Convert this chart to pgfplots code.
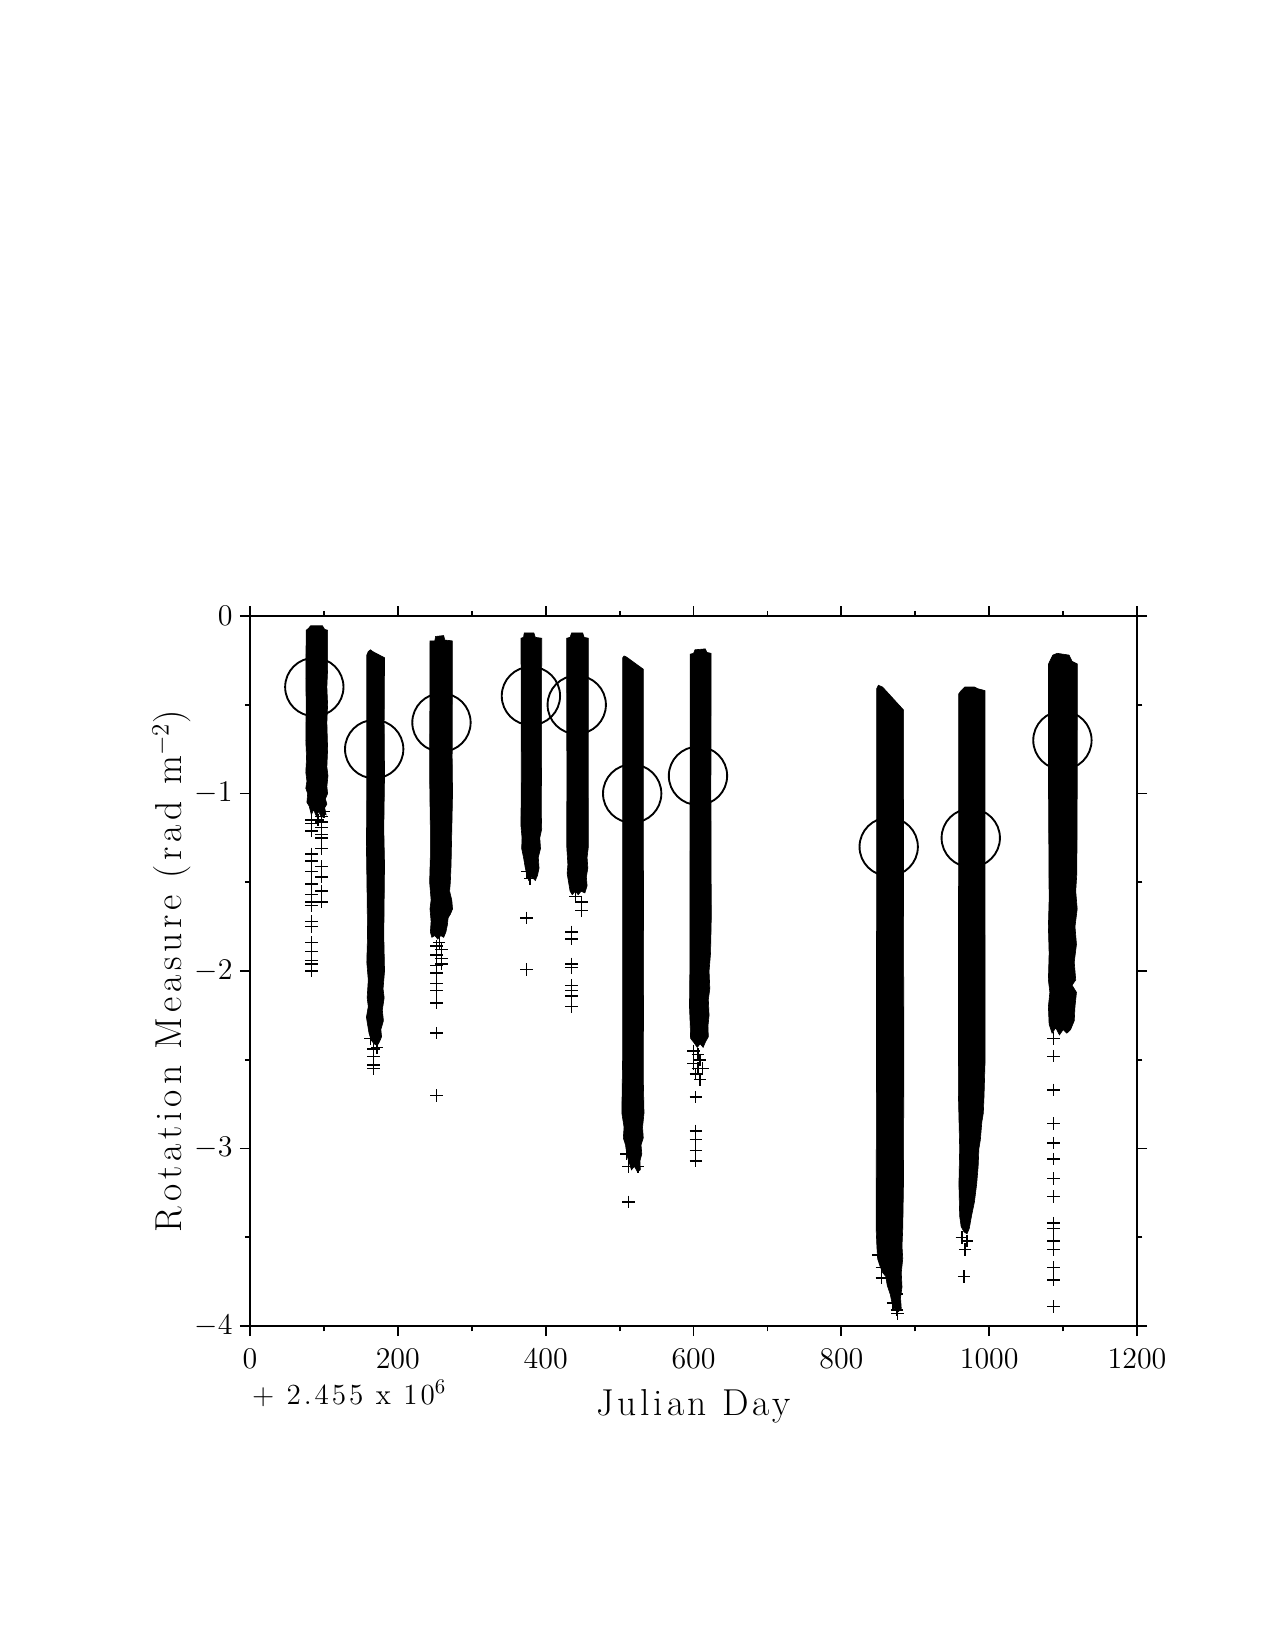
\documentclass[border=0pt]{standalone}
\usepackage{fontspec}
\newfontfamily\xlabelfont{Latin Modern Roman}[LetterSpace=10]
\newfontfamily\ylabelfont{Latin Modern Roman}[LetterSpace=13]
\usepackage{pgfplots}
\pgfplotsset{compat=1.18}
\begin{document}
\begin{tikzpicture}
\useasboundingbox (-120pt,-155.5pt) rectangle (492pt,636.5pt);
\begin{axis}[
  at={(0,0)}, anchor=south west,
  width=425.8pt, height=340.8pt, scale only axis,
  clip mode=individual,
  xmin=0, xmax=1200, ymin=-4, ymax=0,
  xtick={0,200,...,1200}, ytick={-4,-3,-2,-1,0},
  minor x tick num=1, minor y tick num=1,
  tick align=outside, tick pos=both,
  major tick length=4.8pt, minor tick length=2.5pt,
  axis line style={line width=0.9pt},
  every tick/.style={black, line width=0.9pt},
  /pgf/number format/1000 sep={},
  tick label style={font=\fontsize{14}{16}\selectfont},
  xticklabel style={anchor=north, yshift=-3pt},
  yticklabel style={anchor=east},
  xlabel={Julian Day},
  xlabel style={at={(axis description cs:0.5,0)}, anchor=base, yshift=-43pt, font=\xlabelfont\fontsize{18}{20}\selectfont},
  ylabel={Rotation Measure (rad m$^{-2}$)},
  ylabel style={at={(axis description cs:-0.077,0.5)}, anchor=base, font=\ylabelfont\fontsize{18}{20}\selectfont},
]
% band 1
\addplot[fill=black, draw=black, line width=0.3pt, mark=none] coordinates {
(76,-0.08) (79,-0.07) (82,-0.055) (98,-0.055) (101,-0.075) (105,-0.08)
(105,-0.3) (104,-0.4) (105,-0.5) (104,-0.6) (105,-0.75) (104,-0.85) (105.5,-0.9) (104,-0.96) (105,-1.0) (102,-1.03) (104,-1.06) (101,-1.08) (103,-1.12) (99,-1.11) (97,-1.14) (93,-1.10) (90,-1.13) (86,-1.09) (83,-1.12) (80,-1.07) (77,-1.05) (78,-1.0) (75.5,-0.97) (77,-0.93) (75.5,-0.88) (76.5,-0.8) (75.5,-0.7) (76,-0.5) (75.5,-0.35) (76,-0.08)} -- cycle;
% band 2
\addplot[fill=black, draw=black, line width=0.3pt, mark=none] coordinates {
(158,-0.22) (160,-0.20) (163,-0.19) (166,-0.20) (182,-0.235)
(181.5,-0.6) (182,-0.9) (181,-1.2) (182,-1.4) (181.5,-1.6) (181,-1.8) (182,-2.0) (180,-2.1) (181.5,-2.15) (179,-2.22) (180.5,-2.28) (177,-2.33) (178,-2.37) (175,-2.40) (172,-2.42) (168,-2.41) (164,-2.39) (161,-2.35) (159,-2.30) (157.5,-2.26) (160,-2.2) (158.5,-2.15) (160,-2.05) (158,-1.95) (159,-1.8) (158.5,-1.6) (157.5,-1.3) (158,-1.0) (158,-0.22)} -- cycle;
% band 3
\addplot[fill=black, draw=black, line width=0.3pt, mark=none] coordinates {
(243.5,-0.14) (250,-0.14) (251,-0.115) (262,-0.11) (263.5,-0.135) (273.7,-0.14)
(273.5,-0.8) (274,-1.0) (273,-1.2) (272,-1.4) (271,-1.5) (270,-1.55) (273,-1.6) (274,-1.65) (271,-1.68) (268,-1.7) (267,-1.74) (265,-1.78) (262,-1.81) (258,-1.80) (254,-1.82) (250,-1.80) (246,-1.81) (244,-1.78) (245,-1.72) (243.5,-1.65) (245,-1.6) (243,-1.5) (244,-1.35) (244,-1.2) (243,-0.9) (243.5,-0.14)} -- cycle;
% band 4
\addplot[fill=black, draw=black, line width=0.3pt, mark=none] coordinates {
(366.6,-0.125) (370,-0.12) (371,-0.095) (384,-0.095) (386,-0.12) (394.6,-0.125)
(394.5,-0.8) (394,-1.1) (394.6,-1.2) (392,-1.25) (393,-1.31) (390,-1.36) (391,-1.42) (389,-1.46) (386,-1.49) (381,-1.47) (377,-1.49) (374,-1.45) (372,-1.41) (370,-1.36) (367.5,-1.31) (368,-1.25) (366.5,-1.18) (367,-0.9) (366.6,-0.125)} -- cycle;
% band 5
\addplot[fill=black, draw=black, line width=0.3pt, mark=none] coordinates {
(428.4,-0.125) (433,-0.12) (435,-0.095) (450,-0.095) (452,-0.12) (457.7,-0.125)
(457.5,-0.9) (457.7,-1.3) (456,-1.36) (457,-1.42) (455,-1.47) (456,-1.52) (453,-1.56) (448,-1.55) (444,-1.57) (440,-1.55) (436,-1.57) (433,-1.55) (431,-1.5) (429,-1.45) (430,-1.4) (428.5,-1.3) (428.6,-0.9) (428.4,-0.125)} -- cycle;
% band 6
\addplot[fill=black, draw=black, line width=0.3pt, mark=none] coordinates {
(504.2,-0.235) (506,-0.225) (509,-0.23) (532.2,-0.30)
(532,-1.0) (532.5,-2.0) (532,-2.6) (533,-2.8) (531,-2.88) (532,-2.94) (529,-2.98) (530,-3.03) (527.5,-3.07) (528,-3.12) (524,-3.13) (520,-3.10) (516,-3.12) (513,-3.08) (510,-3.04) (508,-2.98) (505,-2.94) (506,-2.88) (503,-2.8) (504,-2.5) (504,-1.5) (504.2,-0.235)} -- cycle;
% band 7
\addplot[fill=black, draw=black, line width=0.3pt, mark=none] coordinates {
(595.3,-0.215) (600,-0.21) (602,-0.19) (616,-0.185) (618,-0.205) (623.7,-0.21)
(623.5,-1.0) (624,-1.7) (623,-1.9) (621,-2.0) (622,-2.1) (620,-2.16) (621,-2.25) (619.5,-2.31) (620,-2.37) (616,-2.40) (613,-2.43) (609,-2.41) (605,-2.43) (600,-2.40) (596,-2.38) (595.5,-2.3) (594.5,-2.2) (595,-2.0) (595.3,-1.0) (595.3,-0.215)} -- cycle;
% band 8
\addplot[fill=black, draw=black, line width=0.3pt, mark=none] coordinates {
(847.6,-0.41) (850,-0.39) (855.7,-0.40) (884.2,-0.53)
(884,-1.5) (884.5,-2.5) (884,-3.2) (883,-3.45) (882,-3.55) (883,-3.62) (881,-3.7) (882,-3.78) (880,-3.84) (881,-3.9) (877,-3.92) (873,-3.91) (869,-3.88) (866,-3.82) (862,-3.77) (860,-3.72) (856,-3.70) (852,-3.66) (849,-3.62) (848,-3.55) (847,-3.45) (847.5,-2.5) (847.6,-1.5) (847.6,-0.41)} -- cycle;
% band 9
\addplot[fill=black, draw=black, line width=0.3pt, mark=none] coordinates {
(958.5,-0.44) (962,-0.42) (967,-0.40) (980,-0.40) (985,-0.41) (994.2,-0.42)
(994.2,-1.5) (994.4,-2.5) (993,-2.7) (992,-2.8) (990,-2.85) (988,-2.95) (986,-3.0) (985,-3.1) (983,-3.2) (980,-3.3) (976,-3.38) (973,-3.45) (970,-3.48) (966,-3.47) (962,-3.44) (960,-3.38) (959,-3.2) (960,-3.0) (958.3,-2.7) (958.5,-1.5) (958.5,-0.44)} -- cycle;
% band 10
\addplot[fill=black, draw=black, line width=0.3pt, mark=none] coordinates {
(1080.2,-0.27) (1083,-0.245) (1086,-0.22) (1092,-0.21) (1108,-0.22) (1112,-0.255) (1119.1,-0.27)
(1119,-1.0) (1118.5,-1.45) (1117,-1.55) (1119,-1.65) (1116,-1.75) (1118,-1.85) (1115,-1.95) (1117,-2.05) (1112,-2.08) (1118,-2.12) (1116,-2.2) (1115,-2.28) (1110,-2.33) (1105,-2.35) (1100,-2.33) (1095,-2.36) (1090,-2.32) (1085,-2.35) (1081,-2.30) (1080,-2.2) (1082,-2.12) (1080,-2.05) (1081,-1.9) (1080,-1.75) (1081,-1.6) (1080.2,-1.0) (1080.2,-0.27)} -- cycle;
% outlying single measurements
\addplot[only marks, mark=+, mark size=3pt, line width=0.7pt, black] coordinates {
(83.4,-1.15) (83.4,-1.17) (83.4,-1.21) (83.4,-1.34) (83.4,-1.38) (83.4,-1.44) (83.4,-1.51) (83.4,-1.57) (83.4,-1.61) (83.4,-1.63) (83.4,-1.72) (83.4,-1.75) (83.4,-1.84) (83.4,-1.89) (83.4,-1.94) (83.4,-1.96) (83.4,-2.00)
(97,-1.13) (97,-1.16) (97,-1.19) (97,-1.23) (97,-1.25) (97,-1.31) (97,-1.41) (97,-1.47) (97,-1.55) (97,-1.61) (92,-1.15) (100,-1.10)
(167,-2.44) (167,-2.48) (167,-2.53) (167,-2.55) (163,-2.38) (172,-2.43)
(252.5,-1.86) (252.5,-1.91) (252.5,-1.97) (252.5,-2.01) (252.5,-2.07) (252.5,-2.11) (252.5,-2.18) (252.5,-2.35) (252.5,-2.70) (259,-1.88) (259,-1.93) (259,-1.96) (256,-1.84)
(374.3,-1.70) (374.3,-1.99) (375,-1.44) (379,-1.48)
(448.7,-1.61) (448.7,-1.66) (435.2,-1.78) (435.2,-1.82) (435.2,-1.96) (435.2,-1.98) (435.2,-2.08) (435.2,-2.11) (435.2,-2.14) (435.2,-2.20) (440,-1.58)
(509.5,-3.03) (511.8,-3.30) (512,-3.10) (525,-3.10)
(600,-2.45) (606,-2.47) (609,-2.50) (600,-2.52) (606,-2.55) (612,-2.55) (603,-2.58) (609,-2.61)
(603,-2.71) (603,-2.90) (603,-2.95) (603,-3.01) (603,-3.07)
(874.9,-3.91) (874.9,-3.82) (854.6,-3.73) (854.6,-3.67) (870,-3.87) (850,-3.60) (876,-3.93)
(967.3,-3.57) (966,-3.72) (963,-3.50) (970,-3.52)
(1086.8,-2.38) (1086.8,-2.48) (1086.8,-2.67) (1086.8,-2.86) (1086.8,-2.97) (1086.8,-3.06) (1086.8,-3.17) (1086.8,-3.27) (1086.8,-3.42) (1086.8,-3.45) (1086.8,-3.52) (1086.8,-3.57) (1086.8,-3.67) (1086.8,-3.74) (1086.8,-3.89)
};
% period means
\addplot[only marks, mark=o, mark size=14pt, line width=0.9pt, black] coordinates {
(87,-0.40) (168,-0.75) (259,-0.60) (380,-0.45) (442,-0.50) (517,-1.00) (606,-0.90) (864,-1.30) (975,-1.25) (1099,-0.70)
};
\node[anchor=base west, font=\xlabelfont\fontsize{14}{16}\selectfont] at (axis description cs:-0.006,-0.110) {+ 2.455 x 10$^6$};
\end{axis}
\end{tikzpicture}
\end{document}
